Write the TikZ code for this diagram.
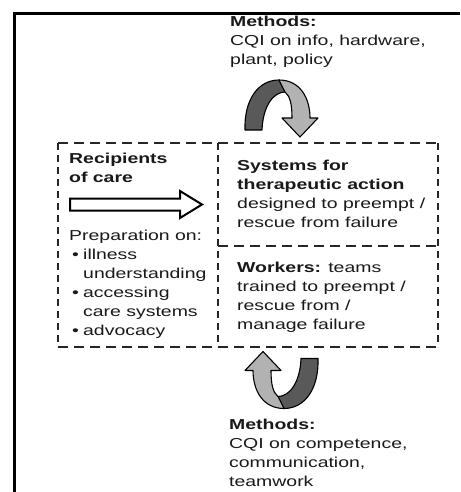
\documentclass[tikz,border=0pt]{standalone}
\usepackage{fontspec}
\setmainfont{Liberation Sans}[FakeStretch=1.35]
\begin{document}
\begin{tikzpicture}[x=1pt,y=-1pt,
  txt/.style={anchor=base west, inner sep=0pt, align=left, font=\fontsize{14.4}{19}\selectfont, text=black!90},
  frameline/.style={line width=2.4pt, black},
  dashh/.style={line width=1.8pt, dash pattern=on 10pt off 6pt, black!85},
  dashv/.style={line width=1.8pt, dash pattern=on 7pt off 5pt, black!85},
  hollowarrow/.style={line width=2pt, black, fill=white, line join=miter},
  darkband/.style={fill=black!65, draw=black, line width=1.1pt, line join=round},
  lightband/.style={fill=black!30, draw=black, line width=1.1pt, line join=round},
  twist/.pic={
    \path[darkband] (-36.5,21.5) .. controls (-37.5,-8.5) and (-23.5,-28.5) .. (-2.5,-28.5)
      -- (3.5,-16.5) .. controls (-7.5,-16.5) and (-18.5,-3.5) .. (-19.5,21.5) -- cycle;
    \path[lightband] (-2.5,-28.5) .. controls (18.5,-28.5) and (28.5,-10.5) .. (28.5,9.5)
      -- (36.5,9.5) -- (18.5,28.5) -- (0.5,9.5) -- (10.5,9.5)
      .. controls (10.5,-4.5) and (8.5,-12.5) .. (3.5,-16.5) -- cycle;
  }]
\useasboundingbox (0,0) rectangle (460,492);
\fill[white] (0,0) rectangle (460,492);

% outer frame (left and top)
\coordinate (fTL) at (14.5,13.5);
\draw[frameline] (fTL |- 0,492) -- (fTL) -- (460,13.5);

% dashed boxes
\coordinate (bTL) at (58,143);
\coordinate (bTM) at (218,143);
\coordinate (bTR) at (438,143);
\coordinate (bML) at (218,246);
\coordinate (bMR) at (438,246);
\coordinate (bBL) at (58,347);
\coordinate (bBM) at (218,347);
\coordinate (bBR) at (438,347);
\draw[dashh] (bTL) -- (bTR);
\draw[dashh] (bBL) -- (bBR);
\draw[dashh] (bML) -- (bMR);
\draw[dashv] (bTL) -- (bBL);
\draw[dashv] (bTM) -- (bBM);
\draw[dashv] (bTR) -- (bBR);

% texts (anchor = baseline of the last line)
\node[txt] (mtop) at (230,65) {\textbf{Methods:}\\CQI on info, hardware,\\plant, policy};
\node[txt] (recip) at (69,182) {\textbf{Recipients}\\\textbf{of care}};
\node[txt] (prep) at (69,335) {Preparation on:\\
  \hspace*{3pt}\makebox[11pt][l]{•}illness\\
  \hspace*{14pt}understanding\\
  \hspace*{3pt}\makebox[11pt][l]{•}accessing\\
  \hspace*{14pt}care systems\\
  \hspace*{3pt}\makebox[11pt][l]{•}advocacy};
\node[txt] (sys) at (237,227) {\textbf{Systems for}\\\textbf{therapeutic action}\\designed to preempt /\\rescue from failure};
\node[txt] (work) at (237,329) {\textbf{Workers:} teams\\trained to preempt /\\rescue from /\\manage failure};
\node[txt] (mbot) at (229,486) {\textbf{Methods:}\\CQI on competence,\\communication,\\teamwork};

% hollow arrow from recipients to systems
\coordinate (hs) at (70,204.5);
\coordinate (ht) at (202,204.5);
\draw[hollowarrow] ([yshift=-6]hs) -- ([xshift=-22,yshift=-6]ht) -- ([xshift=-22,yshift=-13.5]ht)
  -- (ht) -- ([xshift=-22,yshift=13.5]ht) -- ([xshift=-22,yshift=6]ht) -- ([yshift=6]hs) -- cycle;

% twisted arrows
\pic at (281.5,108.5) {twist};
\pic[rotate=180] at (281.5,380) {twist};
\end{tikzpicture}
\end{document}
